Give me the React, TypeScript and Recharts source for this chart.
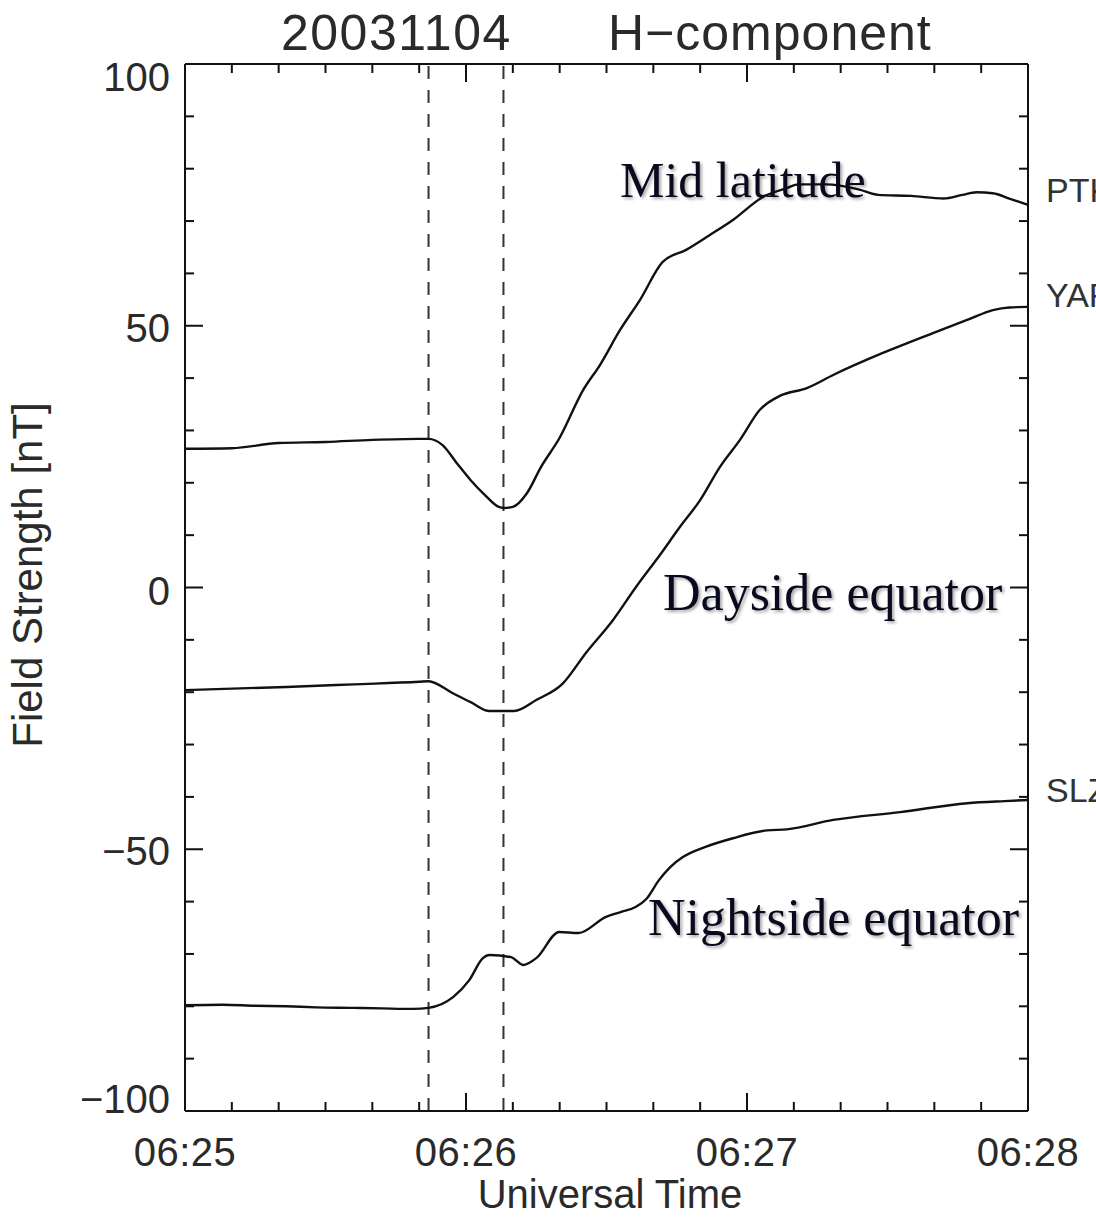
import React from 'react';
import { LineChart, Line, XAxis, YAxis, ReferenceLine } from 'recharts';

// seconds after 06:25:00 and field strength in nT
const ptkTime = [0, 10, 20, 30, 40, 50, 52, 55, 58, 61, 64, 67, 68, 70, 73, 76, 80, 85, 88.6, 92.9, 97.2, 102, 107, 112, 117, 123.4, 128.5, 131, 137, 144, 148, 155, 162, 166, 169, 172.5, 176, 180];
const ptkValue = [26.5, 26.6, 27.6, 27.8, 28.2, 28.4, 28.4, 27.2, 23.8, 20.5, 17.7, 15.4, 15.2, 15.4, 18, 23, 28.6, 37.7, 42.5, 49.2, 55, 62.2, 64.5, 67.3, 70.2, 74.6, 76.3, 77, 77, 76, 75, 74.8, 74.3, 75, 75.5, 75.3, 74.3, 73.1];

const yarTime = [0, 21.6, 36, 50, 52, 57, 61, 65, 70.3, 75, 80.7, 85.6, 91.4, 96.3, 101.4, 105.7, 110, 114.2, 118.5, 122.8, 127, 132.8, 138.4, 149, 159.7, 167, 172.5, 176, 180];
const yarValue = [-19.6, -19.0, -18.5, -18.0, -17.9, -20.1, -21.9, -23.6, -23.6, -21.5, -18.3, -12.5, -6.2, 0.1, 6.2, 11.6, 16.7, 23, 28.2, 34, 36.6, 38.1, 40.6, 44.8, 48.6, 51.1, 53, 53.5, 53.6];

const slzTime = [0, 8, 15, 21.6, 28, 36, 42, 48.7, 52, 57.3, 60.7, 63.6, 65, 69.6, 72.2, 75, 79.9, 84, 89.9, 93, 96.3, 98.5, 101.2, 103.5, 106.3, 111, 117, 124.3, 128.5, 138.4, 152.7, 167, 175, 180];
const slzValue = [-79.8, -79.7, -79.9, -80, -80.2, -80.3, -80.4, -80.5, -80.3, -78.2, -75, -70.8, -70.2, -70.6, -72.1, -70.8, -65.8, -66, -62.9, -62, -61, -59.5, -55.9, -53.5, -51.5, -49.6, -47.9, -46.4, -46.2, -44.4, -42.9, -41.2, -40.8, -40.6];

const eventTimes = [52, 68];
const timeTicks = [0, 10, 20, 30, 40, 50, 60, 70, 80, 90, 100, 110, 120, 130, 140, 150, 160, 170, 180];
const timeLabels: Record<number, string> = { 0: '06:25', 60: '06:26', 120: '06:27', 180: '06:28' };
const fieldTicks = [-100, -90, -80, -70, -60, -50, -40, -30, -20, -10, 0, 10, 20, 30, 40, 50, 60, 70, 80, 90, 100];
const fieldLabelShift: Record<number, number> = { 100: 27, 50: 16, 0: 17, '-50': 16, '-100': 2 };

const toRows = (t: number[], v: number[]) => t.map((s, i) => ({ t: s, v: v[i] }));
const ptk = toRows(ptkTime, ptkValue);
const yar = toRows(yarTime, yarValue);
const slz = toRows(slzTime, slzValue);

const FONT = '"Liberation Sans", Arial, sans-serif';
const INK = '#2a2a2a';

const BottomTick = (props: any) => {
  const { x, y, payload } = props;
  const major = payload.value % 60 === 0;
  return (
    <g>
      <line x1={x} y1={y} x2={x} y2={y - (major ? 18 : 9)} stroke="#111" strokeWidth={2} />
      {major && (
        <text x={x} y={y + 55} textAnchor="middle" fontSize={40} fontFamily={FONT} fill={INK} letterSpacing={0.5}>
          {timeLabels[payload.value]}
        </text>
      )}
    </g>
  );
};

const TopTick = (props: any) => {
  const { x, y, payload } = props;
  const major = payload.value % 60 === 0;
  return <line x1={x} y1={y} x2={x} y2={y + (major ? 18 : 9)} stroke="#111" strokeWidth={2} />;
};

const LeftTick = (props: any) => {
  const { x, y, payload } = props;
  const major = payload.value % 50 === 0;
  const label = payload.value < 0 ? '\u2212' + Math.abs(payload.value) : String(payload.value);
  return (
    <g>
      <line x1={x} y1={y} x2={x + (major ? 18 : 9)} y2={y} stroke="#111" strokeWidth={2} />
      {major && (
        <text x={x - 15} y={y + fieldLabelShift[payload.value]} textAnchor="end" fontSize={40} fontFamily={FONT} fill={INK}>
          {label}
        </text>
      )}
    </g>
  );
};

const RightTick = (props: any) => {
  const { x, y, payload } = props;
  const major = payload.value % 50 === 0;
  return <line x1={x} y1={y} x2={x - (major ? 18 : 9)} y2={y} stroke="#111" strokeWidth={2} />;
};

const noteStyle = { filter: 'drop-shadow(2px 2px 1.5px rgba(0,0,0,0.35))' };

export default function App() {
  return (
    <div style={{ position: 'absolute', left: 0, top: 0, width: 1096, height: 1217, overflow: 'hidden', background: '#fff' }}>
      <LineChart width={1096} height={1217} margin={{ top: 54, right: 58, bottom: 0, left: 0 }}>
        <XAxis xAxisId="b" dataKey="t" type="number" domain={[0, 180]} ticks={timeTicks} interval={0} allowDataOverflow
          height={106} tickSize={0} tickMargin={0} tickLine={false} tick={<BottomTick />}
          axisLine={{ stroke: '#111', strokeWidth: 2 }} />
        <XAxis xAxisId="t" dataKey="t" type="number" orientation="top" domain={[0, 180]} ticks={timeTicks} interval={0} allowDataOverflow
          height={10} tickSize={0} tickMargin={0} tickLine={false} tick={<TopTick />}
          axisLine={{ stroke: '#111', strokeWidth: 2 }} />
        <YAxis yAxisId="l" type="number" domain={[-100, 100]} ticks={fieldTicks} interval={0} allowDataOverflow
          width={185} tickSize={0} tickMargin={0} tickLine={false} tick={<LeftTick />}
          axisLine={{ stroke: '#111', strokeWidth: 2 }} />
        <YAxis yAxisId="r" type="number" orientation="right" domain={[-100, 100]} ticks={fieldTicks} interval={0} allowDataOverflow
          width={10} tickSize={0} tickMargin={0} tickLine={false} tick={<RightTick />}
          axisLine={{ stroke: '#111', strokeWidth: 2 }} />
        {eventTimes.map(t => (
          <ReferenceLine key={t} x={t} xAxisId="b" yAxisId="l" stroke="#333" strokeWidth={2} strokeDasharray="13 11" />
        ))}
        {/* invisible copy so the mirrored top/right axes get a scale */}
        <Line data={ptk} dataKey="v" xAxisId="t" yAxisId="r" stroke="transparent" dot={false} activeDot={false} isAnimationActive={false} />
        <Line data={ptk} dataKey="v" xAxisId="b" yAxisId="l" type="monotone" stroke="#111" strokeWidth={2.4} dot={false} isAnimationActive={false} />
        <Line data={yar} dataKey="v" xAxisId="b" yAxisId="l" type="monotone" stroke="#111" strokeWidth={2.4} dot={false} isAnimationActive={false} />
        <Line data={slz} dataKey="v" xAxisId="b" yAxisId="l" type="monotone" stroke="#111" strokeWidth={2.4} dot={false} isAnimationActive={false} />
      </LineChart>
      <svg width={1096} height={1217} style={{ position: 'absolute', left: 0, top: 0, pointerEvents: 'none' }}>
        <g fontFamily={FONT} fill={INK}>
          <text x={281} y={50} fontSize={50} letterSpacing={1.5}>20031104</text>
          <text x={608} y={50} fontSize={50} letterSpacing={1}>H{'\u2212'}component</text>
          <text x={610} y={1208} fontSize={40} textAnchor="middle">Universal Time</text>
          <text transform="translate(42,575) rotate(-90)" fontSize={42} textAnchor="middle">Field Strength [nT]</text>
          <text x={1046} y={202} fontSize={34} fill="#333">PTK</text>
          <text x={1046} y={307} fontSize={34} fill="#333">YAR</text>
          <text x={1046} y={802} fontSize={34} fill="#333">SLZ</text>
        </g>
        <g fontFamily='"Liberation Serif", "Times New Roman", serif' fill="#0a0a1e" style={noteStyle}>
          <text x={620} y={197} fontSize={50}>Mid latitude</text>
          <text x={663} y={610} fontSize={52}>Dayside equator</text>
          <text x={648} y={935} fontSize={52}>Nightside equator</text>
        </g>
      </svg>
    </div>
  );
}
